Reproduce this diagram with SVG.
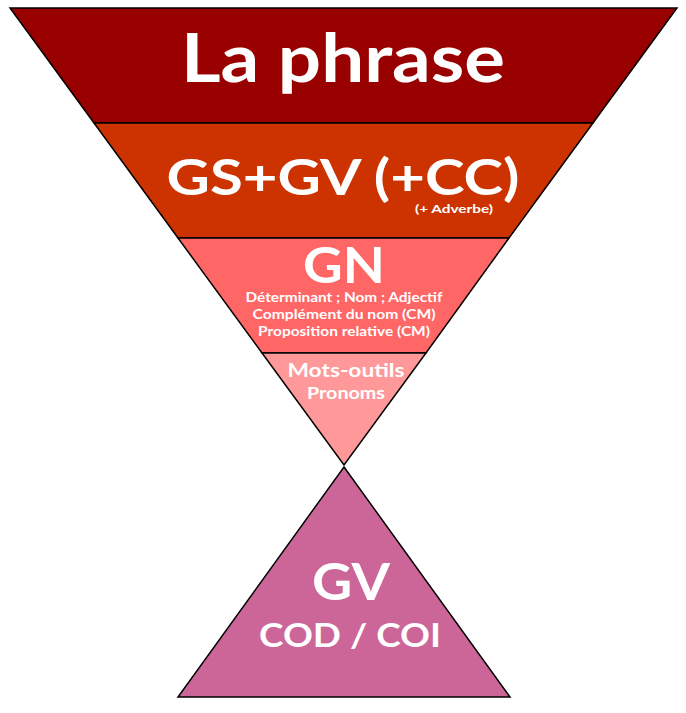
<svg xmlns="http://www.w3.org/2000/svg" width="686" height="713" viewBox="0 0 686 713">
<style>
.band{stroke:#000;stroke-width:1.5;stroke-linejoin:miter}
text{font-family:Lato,"Open Sans","Liberation Sans",sans-serif;font-weight:bold;fill:#fff;text-anchor:middle}
</style>
<rect width="686" height="713" fill="#fff"/>
<g id="phrase">
<polygon class="band" points="10,8 677,8 593,123 94,123" fill="#990000"/>
<text x="343" y="82" font-size="66" textLength="324" lengthAdjust="spacingAndGlyphs">La phrase</text>
</g>
<g id="gsgv">
<polygon class="band" points="94,123 593,123 509,238 178,238" fill="#CC3300"/>
<text x="343" y="195" font-size="50" textLength="353" lengthAdjust="spacingAndGlyphs">GS+GV (+CC)</text>
<text x="454" y="213" font-size="11" textLength="78" lengthAdjust="spacingAndGlyphs">(+ Adverbe)</text>
</g>
<g id="gn">
<polygon class="band" points="178,238 509,238 426,353 262,353" fill="#FF6666"/>
<text x="344" y="283" font-size="49" textLength="82" lengthAdjust="spacingAndGlyphs">GN</text>
<text x="344" y="302" font-size="14" textLength="197" lengthAdjust="spacingAndGlyphs">Déterminant ; Nom ; Adjectif</text>
<text x="344" y="319" font-size="14" textLength="183" lengthAdjust="spacingAndGlyphs">Complément du nom (CM)</text>
<text x="344" y="336" font-size="14" textLength="172" lengthAdjust="spacingAndGlyphs">Proposition relative (CM)</text>
</g>
<g id="mots">
<polygon class="band" points="262,353 426,353 344,465" fill="#FF9999"/>
<text x="346" y="377" font-size="19" textLength="117" lengthAdjust="spacingAndGlyphs">Mots-outils</text>
<text x="346" y="399" font-size="17" textLength="78" lengthAdjust="spacingAndGlyphs">Pronoms</text>
</g>
<g id="gv">
<polygon class="band" points="344,467 510,697 178,697" fill="#CC6699"/>
<text x="351" y="600" font-size="51" textLength="78" lengthAdjust="spacingAndGlyphs">GV</text>
<text x="350" y="647" font-size="33" textLength="182" lengthAdjust="spacingAndGlyphs">COD / COI</text>
</g>
<g id="connectors"/>
</svg>
